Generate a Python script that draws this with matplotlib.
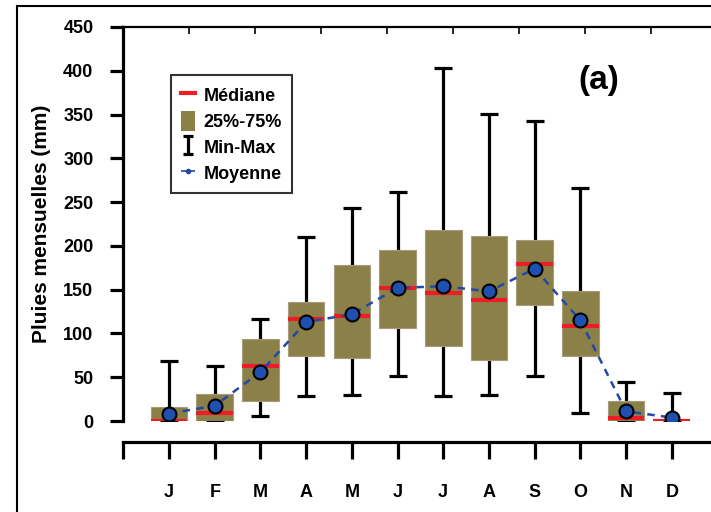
import matplotlib.pyplot as plt
import numpy as np
from matplotlib.patches import Patch, Rectangle
from matplotlib.lines import Line2D

plt.rcParams['font.family'] = ['Liberation Sans', 'DejaVu Sans']
plt.rcParams['font.weight'] = 'bold'

months = ['J', 'F', 'M', 'A', 'M', 'J', 'J', 'A', 'S', 'O', 'N', 'D']
p_min = [0, 0, 6, 29, 30, 51, 28, 30, 51, 9, 0, 0]
q25 = [0, 0, 23, 74, 72, 106, 86, 70, 132, 74, 0, 0]
median = [0.5, 9, 63, 117, 120, 152, 146, 138, 179, 108, 3, 0.5]
q75 = [16, 31, 94, 136, 178, 195, 218, 211, 207, 149, 23, 0]
p_max = [68, 63, 116, 210, 243, 261, 403, 351, 343, 266, 45, 32]
mean = [8.5, 17.5, 56, 113, 122, 152, 154, 148, 174, 115, 11, 4]

x = np.arange(1, len(months) + 1)
olive = '#8b8048'

fig = plt.figure(figsize=(7.11, 5.12), dpi=100)
ax = fig.add_axes([0.1735, 0.1777, 0.8356, 0.7696])

# min-max whiskers
lo = np.array(median) - np.array(p_min)
hi = np.array(p_max) - np.array(median)
ax.errorbar(x, median, yerr=[lo, hi], fmt='none', ecolor='black',
            elinewidth=2.3, capsize=6.5, capthick=2.3, zorder=1)
# smaller copy only for the legend
eb_leg = ax.errorbar([np.nan], [np.nan], yerr=[[1], [1]], fmt='none',
                     ecolor='black', elinewidth=2.3, capsize=3.5, capthick=2.3)

# 25-75 boxes
ax.bar(x, np.array(q75) - np.array(q25), bottom=q25, width=0.8,
       color=olive, edgecolor='#a49c7c', linewidth=0.8, zorder=2)

# medians
ax.hlines(median, x - 0.4, x + 0.4, colors='#ee1c24', linewidth=3, zorder=3)

# mean
ax.plot(x, mean, linestyle=(0, (3, 2.5)), color='#2448a8', linewidth=1.8,
        marker='o', markersize=10, markerfacecolor='#1f50b0',
        markeredgecolor='black', markeredgewidth=1.5, zorder=4)

ax.set_xlim(0, 13)
ax.set_ylim(0, 450)
ax.set_yticks(np.arange(0, 451, 50))
ax.set_xticks(np.arange(0, 13))
ax.set_xticklabels([''] + months)

ax.spines['left'].set_linewidth(2.3)
ax.spines['bottom'].set_linewidth(2.3)
ax.spines['bottom'].set_position(('outward', 15))
ax.spines['top'].set_linewidth(1.6)
ax.spines['right'].set_linewidth(0.6)
ax.tick_params(axis='y', direction='out', length=9.5, width=2.3, pad=12,
               labelsize=13)
ax.tick_params(axis='x', direction='out', length=12, width=2.3, pad=18,
               labelsize=13)
for lab in ax.get_xticklabels() + ax.get_yticklabels():
    lab.set_fontweight('bold')

top = ax.twiny()
top.set_xlim(0, 13)
top.set_xticks(np.arange(1, 9) * 13 / 9)
top.set_xticklabels([])
top.tick_params(axis='x', direction='in', length=5, width=1.2)
for s in top.spines.values():
    s.set_visible(False)

ax.set_ylabel('Pluies mensuelles (mm)', fontsize=15, fontweight='bold',
              labelpad=9)

ax.text(10.4, 389, '(a)', fontsize=24, fontweight='bold', ha='center',
        va='center')

handles = [
    Line2D([], [], color='#ee1c24', linewidth=3),
    Patch(facecolor=olive, edgecolor='none'),
    eb_leg,
    Line2D([], [], color='#2448a8', linestyle='--', linewidth=1.2,
           marker='o', markersize=3),
]
labels = ['Médiane', '25%-75%', 'Min-Max', 'Moyenne']
leg = ax.legend(handles, labels, loc='upper left', bbox_to_anchor=(0.08, 0.877),
                prop={'weight': 'bold', 'size': 13}, frameon=True,
                fancybox=False, edgecolor='black', handlelength=0.8,
                handleheight=1.3, handletextpad=0.45, labelspacing=0.33,
                borderpad=0.55, borderaxespad=0)
leg.get_frame().set_linewidth(1.5)

fig.patches.append(Rectangle((17 / 711, -0.1), 1.1, 1.1 - 6 / 512 + 0.0,
                             transform=fig.transFigure, fill=False,
                             edgecolor='black', linewidth=1.5))

fig.savefig('out.png', dpi=100)
